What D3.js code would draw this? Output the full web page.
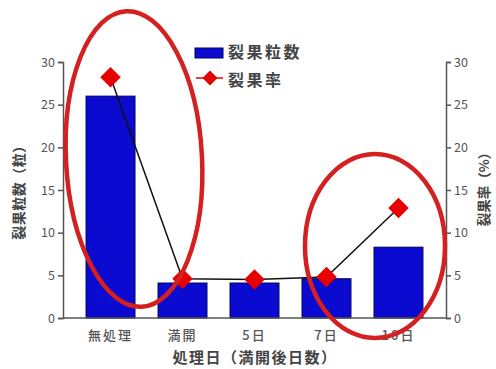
<!DOCTYPE html>
<html><head><meta charset="utf-8">
<script src="https://cdn.jsdelivr.net/npm/d3@7"></script>
<style>body{margin:0;background:#fff}svg{display:block}text{font-family:"Noto Sans CJK JP","Noto Sans",sans-serif}</style>
</head><body>
<script>
const categories = ["無処理","満開","5日","7日","10日"];
const crackedCount = [26, 4.1, 4.1, 4.6, 8.3];
const crackedRate = [28.2, 4.6, 4.5, 4.8, 12.9];
const leftTicks = [0,5,10,15,20,25,30];
const rightTicks = [0,5,10,15,20,25,30];

const W=496,H=369;
const svg=d3.select("body").append("svg").attr("width",W).attr("height",H);
const x0=63,x1=446,yb=318,yt=62;
const x=d3.scaleBand().domain(categories).range([x0,x1]).paddingInner(0.32).paddingOuter(0.32);
const yL=d3.scaleLinear().domain([0,30]).range([yb,yt]);
const yR=d3.scaleLinear().domain([0,30]).range([yb,yt]);
const grey="#555";

// bars
svg.selectAll("rect.bar").data(crackedCount).join("rect").attr("class","bar")
 .attr("x",(d,i)=>x(categories[i])).attr("width",x.bandwidth())
 .attr("y",d=>yL(d)).attr("height",d=>yb-yL(d))
 .attr("fill","#0a0ad0").attr("stroke","#000060").attr("stroke-width",1);

// axes
const ga=svg.append("g").attr("transform",`translate(${x0},0)`).call(d3.axisLeft(yL).tickValues(leftTicks).tickSize(5).tickPadding(3));
const gr=svg.append("g").attr("transform",`translate(${x1},0)`).call(d3.axisRight(yR).tickValues(rightTicks).tickSize(5).tickPadding(3));
const gb=svg.append("g").attr("transform",`translate(0,${yb})`).call(d3.axisBottom(x).tickSize(0).tickPadding(13));
[ga,gr,gb].forEach(g=>{g.selectAll("path,line").attr("stroke",grey).attr("stroke-width",1.5);
 g.selectAll("text").attr("fill","#555").style("font-size","12.5px");});
gb.select("path").attr("d",`M${x0},0H${x1}`);
gb.selectAll("text").style("font-size","13px").style("letter-spacing","2px").style("font-weight","500");

// line + diamonds
const line=d3.line().x((d,i)=>x(categories[i])+x.bandwidth()/2).y(d=>yR(d));
svg.append("path").datum(crackedRate).attr("d",line).attr("fill","none").attr("stroke","#111").attr("stroke-width",1.5);
const sym=d3.symbol().type(d3.symbolSquare).size(210);
svg.selectAll("path.pt").data(crackedRate).join("path").attr("class","pt")
 .attr("d",sym).attr("fill","#e60000")
 .attr("transform",(d,i)=>`translate(${x(categories[i])+x.bandwidth()/2},${yR(d)}) rotate(45)`);

// legend
svg.append("rect").attr("x",195).attr("y",48).attr("width",28).attr("height",10).attr("fill","#0a0ad0").attr("stroke","#000060");
svg.append("text").attr("x",228).attr("y",58).text("裂果粒数").style("font-size","16px").style("letter-spacing","2.5px").style("font-weight","bold").attr("fill","#444");
svg.append("line").attr("x1",196).attr("x2",223).attr("y1",78).attr("y2",78).attr("stroke","#e60000").attr("stroke-width",1.5);
svg.append("path").attr("d",d3.symbol().type(d3.symbolSquare).size(110)).attr("fill","#e60000")
 .attr("transform","translate(210,78) rotate(45)");
svg.append("text").attr("x",228).attr("y",86).text("裂果率").style("font-size","16px").style("letter-spacing","2.5px").style("font-weight","bold").attr("fill","#444");

// axis titles
svg.append("text").attr("transform","translate(19,189) rotate(-90)").attr("text-anchor","middle").attr("dy","0.35em")
 .text("裂果粒数（粒）").style("font-size","14px").style("letter-spacing","0.5px").style("font-weight","bold").attr("fill","#444");
svg.append("text").attr("transform","translate(484,186) rotate(-90)").attr("text-anchor","middle").attr("dy","0.35em")
 .text("裂果率（%）").style("font-size","13.5px").style("font-weight","bold").attr("fill","#444");
svg.append("text").attr("x",255).attr("y",363).attr("text-anchor","middle")
 .text("処理日（満開後日数）").style("font-size","15px").style("letter-spacing","1.5px").style("font-weight","bold").attr("fill","#444");

// red ellipses
svg.append("ellipse").attr("cx",134).attr("cy",159).attr("rx",68).attr("ry",148)
 .attr("transform","rotate(-3,134,159)").attr("fill","none").attr("stroke","#d42020").attr("stroke-width",4.5);
svg.append("ellipse").attr("cx",375).attr("cy",246).attr("rx",70).attr("ry",92)
 .attr("fill","none").attr("stroke","#d42020").attr("stroke-width",4.5);
</script>
</body></html>
